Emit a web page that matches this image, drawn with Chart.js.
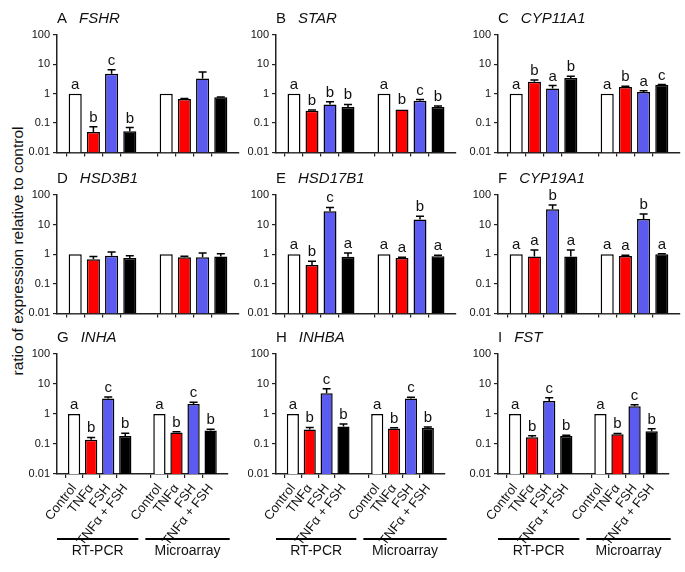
<!DOCTYPE html>
<html>
<head>
<meta charset="utf-8">
<script src="https://cdn.jsdelivr.net/npm/chart.js@4.4.0/dist/chart.umd.min.js"></script>
<style>
  body { margin: 0; background: #fff; width: 685px; height: 572px; position: relative; overflow: hidden; font-family: "Liberation Sans", Arial, sans-serif; }
  canvas { position: absolute; }
  #ylabel { position: absolute; width: 300px; left: -132px; top: 243px; line-height: 16px; text-align: center; font-size: 15.5px; color: #111; transform: rotate(-90deg); }
</style>
</head>
<body>
<div id="ylabel">ratio of expression relative to control</div>
<script>
const conditions = ['Control', 'TNFα', 'FSH', 'TNFα + FSH'];
const methods = ['RT-PCR', 'Microarray'];
const yTicks = [0.01, 0.1, 1, 10, 100];
const barColors = ['#ffffff', '#ff0000', '#5b5bf2', '#000000'];

// values: 4 RT-PCR bars then 4 microarray bars
const fshrMean = [1, 0.05, 4.75, 0.053, 1, 0.66, 3.3, 0.75];
const fshrSem = [0, 0.025, 1.8, 0.017, 0, 0.03, 2.2, 0.02];
const fshrLetters = ['a', 'b', 'c', 'b', '', '', '', ''];

const starMean = [1, 0.265, 0.43, 0.35, 1, 0.29, 0.57, 0.35];
const starSem = [0, 0.015, 0.1, 0.08, 0, 0, 0.06, 0.03];
const starLetters = ['a', 'b', 'b', 'b', 'a', 'b', 'c', 'b'];

const cyp11Mean = [1, 2.55, 1.5, 3.4, 1, 1.7, 1.15, 2.0];
const cyp11Sem = [0, 0.4, 0.4, 0.5, 0, 0.08, 0.12, 0.05];
const cyp11Letters = ['a', 'b', 'a', 'b', 'a', 'b', 'a', 'c'];

const hsd3Mean = [1, 0.68, 0.88, 0.75, 1, 0.79, 0.79, 0.84];
const hsd3Sem = [0, 0.15, 0.3, 0.13, 0, 0.06, 0.3, 0.2];
const hsd3Letters = ['', '', '', '', '', '', '', ''];

const hsd17Mean = [1, 0.43, 28, 0.82, 1, 0.74, 15, 0.86];
const hsd17Sem = [0, 0.15, 10, 0.28, 0, 0.05, 4, 0.07];
const hsd17Letters = ['a', 'b', 'c', 'a', 'a', 'a', 'b', 'a'];

const cyp19Mean = [1, 0.84, 33, 0.84, 1, 0.87, 15.5, 1.0];
const cyp19Sem = [0, 0.55, 13, 0.55, 0, 0.05, 7.5, 0.03];
const cyp19Letters = ['a', 'a', 'b', 'a', 'a', 'a', 'b', 'a'];

const inhaMean = [1, 0.138, 3.3, 0.185, 1, 0.24, 2.15, 0.28];
const inhaSem = [0, 0.027, 0.4, 0.045, 0, 0.015, 0.3, 0.03];
const inhaLetters = ['a', 'b', 'c', 'b', 'a', 'b', 'c', 'b'];

const inhbaMean = [1, 0.305, 4.9, 0.385, 1, 0.33, 3.3, 0.34];
const inhbaSem = [0, 0.05, 2.0, 0.075, 0, 0.015, 0.35, 0.03];
const inhbaLetters = ['a', 'b', 'c', 'b', 'a', 'b', 'c', 'b'];

const fstMean = [1, 0.167, 2.7, 0.185, 1, 0.21, 1.8, 0.265];
const fstSem = [0, 0.02, 0.8, 0.012, 0, 0.015, 0.25, 0.06];
const fstLetters = ['a', 'b', 'c', 'b', 'a', 'b', 'c', 'b'];

const panels = [
  { id: 'A', gene: 'FSHR', mean: fshrMean, sem: fshrSem, letters: fshrLetters },
  { id: 'B', gene: 'STAR', mean: starMean, sem: starSem, letters: starLetters },
  { id: 'C', gene: 'CYP11A1', mean: cyp11Mean, sem: cyp11Sem, letters: cyp11Letters },
  { id: 'D', gene: 'HSD3B1', mean: hsd3Mean, sem: hsd3Sem, letters: hsd3Letters },
  { id: 'E', gene: 'HSD17B1', mean: hsd17Mean, sem: hsd17Sem, letters: hsd17Letters },
  { id: 'F', gene: 'CYP19A1', mean: cyp19Mean, sem: cyp19Sem, letters: cyp19Letters },
  { id: 'G', gene: 'INHA', mean: inhaMean, sem: inhaSem, letters: inhaLetters },
  { id: 'H', gene: 'INHBA', mean: inhbaMean, sem: inhbaSem, letters: inhbaLetters },
  { id: 'I', gene: 'FST', mean: fstMean, sem: fstSem, letters: fstLetters }
];

// page layout in pixels
const axisLeft = [57, 276, 498];
const axisRight = [239, 456, 680];
const plotTop = [35, 195, 354];
const plotBottom = [154, 315, 474];
const FONT = '"Liberation Sans", Arial, sans-serif';

// blank slot at both ends and between the two groups
function toSlots(arr, blank) {
  return [blank, ...arr.slice(0, 4), blank, ...arr.slice(4, 8), blank];
}

const slotLabels = toSlots(conditions.concat(conditions), '');
const slotColors = toSlots(barColors.concat(barColors), null);

panels.forEach(function (p, i) {
  const row = Math.floor(i / 3);
  const col = i % 3;
  const bottomRow = row === 2;
  const xHeight = bottomRow ? 572 - plotBottom[row] : 8;
  const left = axisLeft[col] - 40;
  const top = plotTop[row] - 28;

  const canvas = document.createElement('canvas');
  canvas.width = axisRight[col] + 4 - left;
  canvas.height = plotBottom[row] + xHeight - top;
  canvas.style.left = left + 'px';
  canvas.style.top = top + 'px';
  document.body.appendChild(canvas);

  const means = toSlots(p.mean, null);
  const sems = toSlots(p.sem, 0);
  const letters = toSlots(p.letters, '');

  const extras = {
    id: 'extras',
    afterDatasetsDraw(chart) {
      const ctx = chart.ctx;
      const y = chart.scales.y;
      const bars = chart.getDatasetMeta(0).data;
      ctx.save();
      ctx.strokeStyle = '#000';
      ctx.lineWidth = 1.5;
      ctx.fillStyle = '#111';
      ctx.font = '15px ' + FONT;
      ctx.textAlign = 'center';
      means.forEach(function (m, k) {
        if (m == null) return;
        const bar = bars[k];
        const errTop = y.getPixelForValue(m + sems[k]);
        if (sems[k] > 0) {
          ctx.beginPath();
          ctx.moveTo(bar.x, bar.y);
          ctx.lineTo(bar.x, errTop);
          ctx.moveTo(bar.x - 4, errTop);
          ctx.lineTo(bar.x + 4, errTop);
          ctx.stroke();
        }
        if (letters[k]) ctx.fillText(letters[k], bar.x, errTop - 5);
      });
      ctx.restore();
    },
    afterDraw(chart) {
      const ctx = chart.ctx;
      const area = chart.chartArea;
      ctx.save();
      ctx.fillStyle = '#111';
      // panel title: letter + italic gene name
      ctx.font = '15px ' + FONT;
      ctx.fillText(p.id, area.left, area.top - 12);
      const w = ctx.measureText(p.id).width;
      ctx.font = 'italic 15px ' + FONT;
      ctx.fillText(p.gene, area.left + w + 12, area.top - 12);

      // group brackets under the bottom row
      if (bottomRow) {
        const mid = chart.scales.x.getPixelForValue(5);
        const spans = [[area.left, mid - 4], [mid + 3, area.right + 2]];
        ctx.strokeStyle = '#000';
        ctx.lineWidth = 2;
        ctx.font = '14px ' + FONT;
        ctx.textAlign = 'center';
        spans.forEach(function (s, k) {
          ctx.beginPath();
          ctx.moveTo(s[0], area.bottom + 65);
          ctx.lineTo(s[1], area.bottom + 65);
          ctx.stroke();
          ctx.fillText(methods[k], (s[0] + s[1]) / 2, area.bottom + 81);
        });
      }
      ctx.restore();
    }
  };

  new Chart(canvas.getContext('2d'), {
    type: 'bar',
    data: {
      labels: slotLabels,
      datasets: [{
        data: means,
        backgroundColor: slotColors,
        borderColor: '#000',
        borderWidth: 1.5,
        barPercentage: 0.72,
        categoryPercentage: 1
      }]
    },
    options: {
      responsive: false,
      animation: false,
      layout: { padding: { top: 28, right: 4, left: 0, bottom: 0 } },
      plugins: {
        legend: { display: false },
        tooltip: { enabled: false }
      },
      scales: {
        x: {
          offset: false,
          border: { color: '#222', width: 1.5 },
          grid: {
            drawOnChartArea: false,
            tickLength: 4,
            lineWidth: 1.2,
            color: function (c) { return slotLabels[c.index] ? '#222' : 'rgba(0,0,0,0)'; }
          },
          ticks: {
            display: bottomRow,
            autoSkip: false,
            minRotation: 52,
            maxRotation: 52,
            color: '#111',
            font: { size: 13, family: FONT }
          },
          afterFit: function (s) { s.height = xHeight; }
        },
        y: {
          type: 'logarithmic',
          min: 0.01,
          max: 100,
          border: { color: '#222', width: 1.5 },
          grid: { drawOnChartArea: false, tickLength: 4, lineWidth: 1.2, color: '#222' },
          ticks: {
            color: '#111',
            font: { size: 11, family: FONT },
            callback: function (v) { return String(v); }
          },
          afterBuildTicks: function (s) { s.ticks = yTicks.map(function (v) { return { value: v }; }); },
          afterFit: function (s) { s.width = 40; }
        }
      }
    },
    plugins: [extras]
  });
});
</script>
</body>
</html>
